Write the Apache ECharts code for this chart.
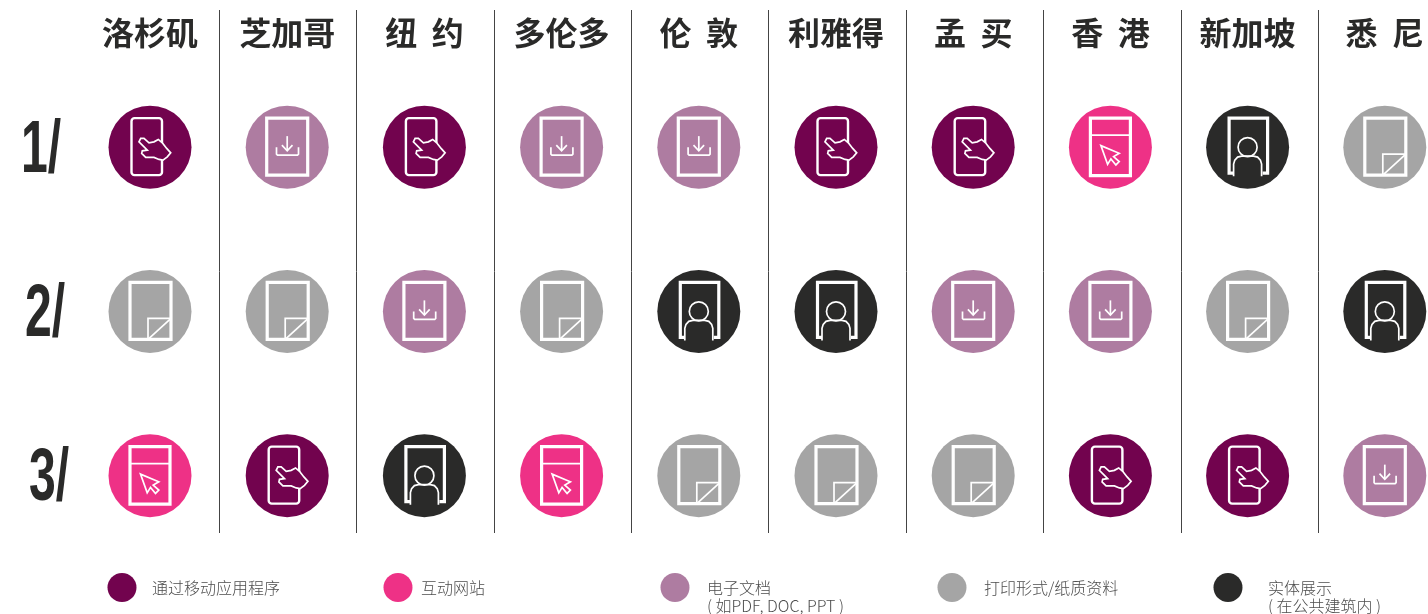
<!DOCTYPE html>
<html>
<head>
<meta charset="utf-8">
<title>chart</title>
<style>
html, body { margin: 0; padding: 0; background: #fff; }
#chart { width: 1428px; height: 614px; }
</style>
<script src="https://cdn.jsdelivr.net/npm/echarts@6/dist/echarts.min.js"></script>
</head>
<body>
<div id="chart"></div>
<script>
var cities = ['洛杉矶', '芝加哥', '纽  约', '多伦多', '伦  敦', '利雅得', '孟  买', '香  港', '新加坡', '悉  尼'];
var ranks = ['1/', '2/', '3/'];

var mobile = '通过移动应用程序';
var site = '互动网站';
var ebook = '电子文档';
var print = '打印形式/纸质资料';
var venue = '实体展示';

var first = [mobile, ebook, mobile, ebook, ebook, mobile, mobile, site, venue, print];
var second = [print, print, ebook, print, venue, venue, ebook, ebook, print, venue];
var third = [site, mobile, venue, site, print, print, print, mobile, mobile, ebook];
var channels = [mobile, site, ebook, print, venue];
// leading empty line keeps the first text line level with the legend circle
var legendText = {};
legendText[ebook] = '\n电子文档\n( 如PDF, DOC, PPT )';
legendText[venue] = '\n实体展示\n( 在公共建筑内 )';

var colors = {};
colors[mobile] = '#72034e';
colors[site] = '#ee3186';
colors[ebook] = '#ae7ca1';
colors[print] = '#a5a5a5';
colors[venue] = '#2a2a29';

var thin = 1.7;
var thick = 3.2;

function outline(shapeType, shape, width, fill) {
	return {
		type: shapeType,
		shape: shape,
		silent: true,
		style: { stroke: '#fff', fill: fill || 'none', lineWidth: width }
	};
}

// white drawing inside each circle, in px around the circle centre
function glyph(name, back) {
	if (name === mobile) {
		return [
			outline('rect', { x: -18.5, y: -29, width: 30.5, height: 57, r: 3 }, 2.4),
			outline('polygon', { points: [[-9.3, -8.7], [-6, -8.7], [-1, -4.3], [4, -5.3], [8.3, -7.7], [12.3, -4.3], [16.7, 1.3], [20.7, 5.7], [17.3, 9.7], [13, 13], [9, 12.3], [4, 10.3], [-4.3, 10.3], [-8.3, 6.3], [-7.7, 3.7], [-2.7, 3], [-11, -5.3]] }, thin, back)
		];
	}
	if (name === site) {
		return [
			outline('rect', { x: -20, y: -29, width: 40, height: 57.5 }, thick),
			outline('line', { x1: -20, y1: -12, x2: 20, y2: -12 }, thin),
			outline('polygon', { points: [[-9.5, -1.5], [8.8, 6.2], [3.2, 9.5], [8.8, 14.5], [5.5, 17.8], [0.5, 11.8], [-2.8, 17.2]] }, thin)
		];
	}
	if (name === ebook) {
		return [
			outline('rect', { x: -20.5, y: -29, width: 41, height: 57 }, thick),
			outline('polyline', { points: [[-10.7, 0], [-10.7, 7], [-9.7, 8], [10.3, 8], [11.3, 7], [11.3, 0]] }, thin),
			outline('line', { x1: 0, y1: -11, x2: 0, y2: 3 }, thin),
			outline('polyline', { points: [[-5.3, -2], [0, 3.7], [5.3, -2]] }, thin)
		];
	}
	if (name === print) {
		return [
			outline('rect', { x: -20, y: -29, width: 41, height: 57 }, thick),
			outline('polyline', { points: [[-2, 28], [-2, 7], [21, 7]] }, thin),
			outline('line', { x1: 21, y1: 7, x2: -2, y2: 28 }, thin)
		];
	}
	return [
		outline('polyline', { points: [[-14, 26], [-18.5, 26], [-18.5, -29], [20, -29], [20, 26], [15, 26]] }, thick),
		outline('circle', { cx: 0, cy: 0, r: 9.5 }, thin),
		outline('polyline', { points: [[-14, 29], [-14, 17], [-12.8, 13], [-10, 10], [-6, 9], [6, 9], [10, 10], [12.8, 13], [14, 17], [14, 29]] }, thin)
	];
}

function cellsOf(name) {
	var cells = [];
	[first, second, third].forEach(function (row, r) {
		row.forEach(function (channel, c) {
			if (channel === name) {
				cells.push([cities[c], ranks[r]]);
			}
		});
	});
	return cells;
}

var dom = document.getElementById('chart');
var myChart = echarts.init(dom);

var series = channels.map(function (name) {
	return {
		name: name,
		type: 'custom',
		xAxisIndex: 0,
		yAxisIndex: 0,
		clip: false,
		silent: true,
		itemStyle: { color: colors[name] },
		data: cellsOf(name),
		encode: { x: 0, y: 1 },
		renderItem: function (params, api) {
			var p = api.coord([api.value(0), api.value(1)]);
			return {
				type: 'group',
				x: p[0],
				y: p[1],
				children: [{
					type: 'circle',
					shape: { cx: 0, cy: 0, r: 41.5 },
					style: { fill: colors[name] }
				}].concat(glyph(name, colors[name]))
			};
		}
	};
});

// big condensed rank labels to the left of the grid
var rankLeft = [41, 45, 49];
series.push({
	name: 'rank',
	type: 'custom',
	xAxisIndex: 0,
	yAxisIndex: 0,
	clip: false,
	silent: true,
	data: ranks.map(function (r) { return [cities[0], r]; }),
	encode: { x: 0, y: 1 },
	renderItem: function (params, api) {
		var p = api.coord([api.value(0), api.value(1)]);
		return {
			type: 'text',
			x: rankLeft[params.dataIndex],
			y: p[1] + 4,
			scaleX: 0.65,
			style: {
				text: ranks[params.dataIndex],
				font: 'bold 74px "Liberation Sans"',
				fill: '#2a2a29',
				textAlign: 'center',
				textVerticalAlign: 'middle'
			}
		};
	}
});

var legendLeft = [107.5, 383.5, 660.5, 937.5, 1213.5];
var legendGap = [10.5, 3.5, 12.5, 12.5, 20.5];

var option = {
	animation: false,
	backgroundColor: '#fff',
	grid: [
		{ left: 81.4, top: 65, width: 1372, height: 492.75, outerBoundsMode: 'none' },
		{ left: 81.6, top: 10, width: 1374, height: 523, outerBoundsMode: 'none' }
	],
	xAxis: [
		{
			type: 'category',
			gridIndex: 0,
			position: 'top',
			data: cities,
			axisLine: { show: false },
			axisTick: { show: false },
			splitLine: { show: false },
			axisLabel: {
				interval: 0,
				margin: 16,
				color: '#2a2a29',
				fontFamily: '"Noto Sans CJK SC"',
				fontWeight: 'bold',
				fontSize: 32
			}
		},
		{
			type: 'category',
			gridIndex: 1,
			data: cities,
			axisLine: { show: false },
			axisTick: { show: false },
			axisLabel: { show: false },
			splitLine: {
				show: true,
				interval: 0,
				showMinLine: false,
				showMaxLine: false,
				lineStyle: { color: '#444', width: 1 }
			}
		}
	],
	yAxis: [
		{
			type: 'category',
			gridIndex: 0,
			inverse: true,
			data: ranks,
			axisLine: { show: false },
			axisTick: { show: false },
			axisLabel: { show: false },
			splitLine: { show: false }
		},
		{
			type: 'value',
			gridIndex: 1,
			show: false
		}
	],
	legend: channels.map(function (name, i) {
		return {
			left: legendLeft[i],
			top: legendText[name] ? 560.5 : 573,
			padding: 0,
			selectedMode: false,
			icon: 'circle',
			itemWidth: 29,
			itemHeight: 29,
			data: [name],
			formatter: function (n) { return legendText[n] || n; },
			textStyle: {
				color: '#4d4d4d',
				fontFamily: '"Noto Sans CJK SC"',
				fontWeight: 300,
				fontSize: 16,
				lineHeight: 18,
				padding: [0, 0, 0, legendGap[i]]
			}
		};
	}),
	series: series
};

if (option && typeof option === 'object') {
	myChart.setOption(option, true);
}
</script>
</body>
</html>
